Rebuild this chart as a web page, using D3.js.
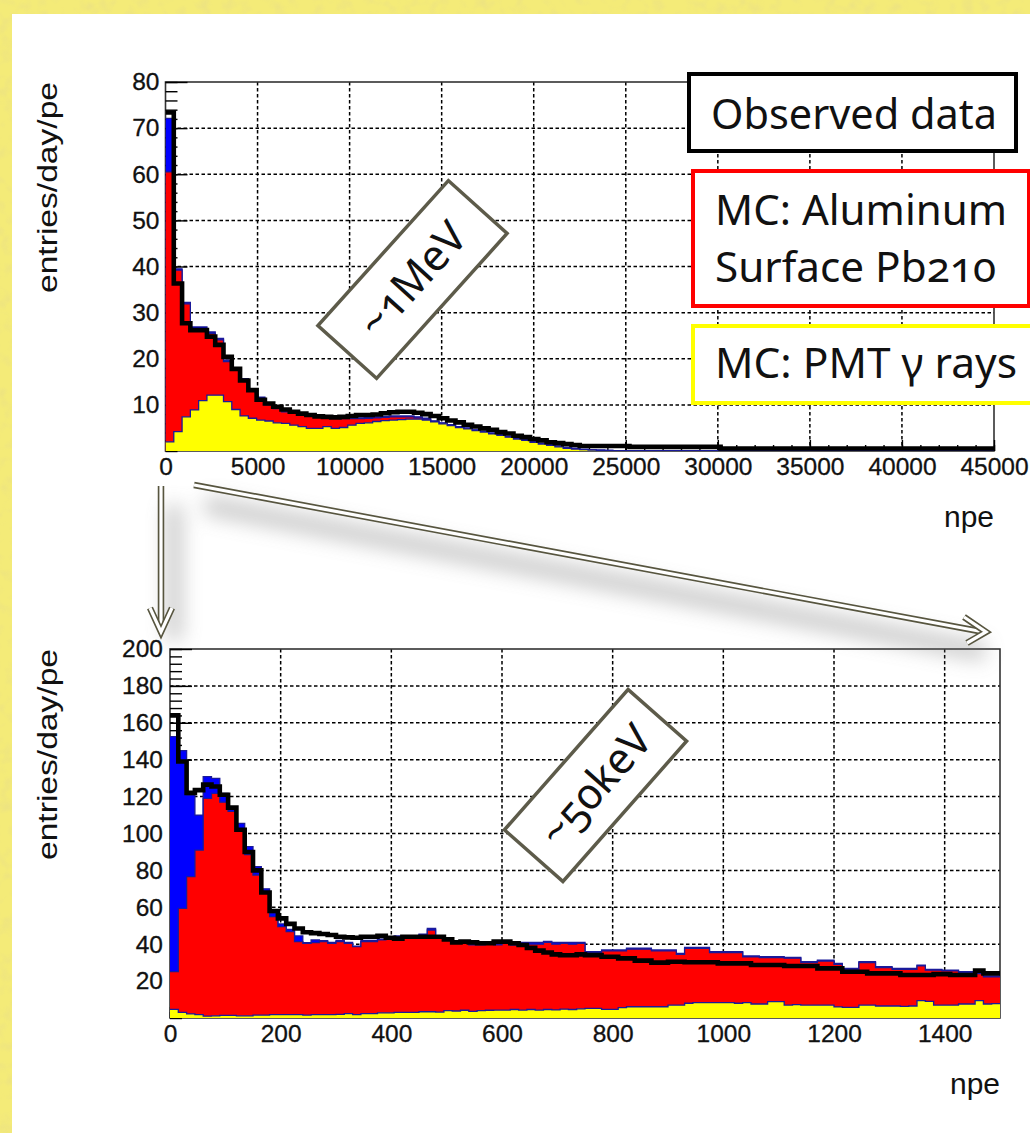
<!DOCTYPE html>
<html><head><meta charset="utf-8">
<script src="https://cdn.jsdelivr.net/npm/d3@7"></script>
<style>
html,body{margin:0;padding:0;background:#fff;}
svg{display:block;}
</style></head>
<body>
<svg id="chart" width="1030" height="1133"></svg>
<script>
// ---------------- DATA ----------------
// Upper histogram: 100 bins of 450 npe over 0..45000
const topXTicks = [0,5000,10000,15000,20000,25000,30000,35000,40000,45000];
const topYTicks = [10,20,30,40,50,60,70,80];
// stack level after PMT gamma (yellow)
const topPMT = [2.0,4.2,7.4,8.9,10.9,12.1,12.1,10.7,9.0,7.6,
 7.1,6.7,6.5,6.1,6.0,5.6,5.3,4.9,4.9,5.3,
 4.9,5.1,5.6,6.0,6.1,6.4,6.6,6.7,6.8,6.9,
 6.9,6.7,6.3,5.9,5.5,5.1,4.8,4.4,4.1,3.7,
 3.4,3.0,2.6,2.3,1.9,1.5,1.2,0.9,0.6,0.4,
 0.3,0.2,0.15,0.1,0.1,0,0,0,0,0,
 0,0,0,0,0,0,0,0,0,0,
 0,0,0,0,0,0,0,0,0,0,
 0,0,0,0,0,0,0,0,0,0,
 0,0,0,0,0,0,0,0,0,0];
// stack level after Al surface Pb210 (red)
const topAl = [60.5,39.2,31.9,26.6,26.6,25.5,24.1,19.4,17.6,15.4,
 13.2,11.4,10.0,9.2,8.5,8.2,7.8,7.5,7.3,7.2,
 7.1,7.0,7.0,7.0,7.1,7.2,7.3,7.4,7.4,7.4,
 7.2,6.9,6.4,6.0,5.6,5.2,4.9,4.5,4.2,3.8,
 3.5,3.1,2.7,2.4,2.0,1.6,1.3,1.0,0.7,0.5,
 0.35,0.25,0.2,0.15,0.1,0.05,0.05,0.05,0,0,
 0,0,0,0,0,0,0,0,0,0,
 0,0,0,0,0,0,0,0,0,0,
 0,0,0,0,0,0,0,0,0,0,
 0,0,0,0,0,0,0,0,0,0];
// full stack (blue on top)
const topAll = [72.1,39.5,32.2,26.9,26.9,25.8,24.4,19.7,17.9,15.7,
 13.5,11.7,10.3,9.4,8.7,8.4,8.0,7.7,7.5,7.4,
 7.3,7.2,7.2,7.2,7.3,7.4,7.5,7.6,7.6,7.6,
 7.4,7.1,6.5,6.1,5.7,5.3,5.0,4.6,4.3,3.9,
 3.6,3.2,2.8,2.5,2.1,1.7,1.4,1.1,0.8,0.6,
 0.35,0.25,0.2,0.15,0.1,0.05,0.05,0.05,0,0,
 0,0,0,0,0,0,0,0,0,0,
 0,0,0,0,0,0,0,0,0,0,
 0,0,0,0,0,0,0,0,0,0,
 0,0,0,0,0,0,0,0,0,0];
// observed data
const topData = [73.4,36.3,27.7,26.2,26.2,24.8,23.0,20.4,17.8,15.3,
 13.2,11.1,10.3,9.6,9.0,8.5,8.1,7.8,7.5,7.4,
 7.3,7.4,7.6,7.8,7.8,7.9,8.2,8.4,8.5,8.5,
 8.3,8.0,7.6,7.1,6.6,6.2,5.7,5.3,4.9,4.6,
 4.1,3.8,3.3,3.0,2.6,2.3,1.9,1.7,1.5,1.3,
 1.1,1.1,1.1,1.1,1.1,1.1,0.9,0.9,0.9,0.9,
 0.9,0.9,0.9,0.9,0.9,0.9,0.9,0.55,0.55,0.55,
 0.55,0.55,0.55,0.55,0.55,0.55,0.55,0.55,0.55,0.55,
 0.55,0.55,0.55,0.55,0.55,0.55,0.55,0.55,0.55,0.55,
 0.55,0.55,0.55,0.55,0.55,0.55,0.55,0.55,0.55,0.55];

// Lower histogram: 100 bins of 15 npe over 0..1500
const botXTicks = [0,200,400,600,800,1000,1200,1400];
const botYTicks = [20,40,60,80,100,120,140,160,180,200];
const botPMT = [4.7,3.0,2.2,1.8,1.0,1.2,1.4,1.4,1.2,1.2,
 1.6,1.6,1.8,1.8,1.8,1.8,1.6,1.8,1.8,1.8,
 2.0,2.4,1.8,2.4,2.4,2.8,2.8,3.0,3.0,3.0,
 3.4,3.4,3.2,4.0,3.8,4.2,3.6,4.0,4.2,4.3,
 4.3,4.6,4.3,4.6,4.3,4.6,4.4,4.8,4.6,5.0,
 5.2,5.2,4.7,4.7,5.6,6.1,6.1,6.1,6.1,6.1,
 7.0,7.0,8.0,8.3,8.3,8.3,8.3,8.3,8.0,8.3,
 7.6,7.6,8.9,8.9,7.0,7.2,7.0,7.0,7.0,7.0,
 6.0,5.8,5.8,7.0,7.0,6.5,6.5,6.5,6.3,6.5,
 9.4,9.0,7.0,7.0,7.0,7.6,7.6,9.4,7.6,7.8];
const botAl = [25.1,59.4,76.6,91.0,119.0,121.8,117.0,112.0,101.5,88.5,
 77.5,67.6,55.0,49.5,46.8,41.4,40.5,40.8,41.4,40.5,
 41.4,40.5,38.7,41.4,41.4,42.3,43.2,44.1,44.1,44.1,
 45.0,47.7,44.1,42.3,41.4,40.5,39.6,39.6,40.5,39.6,
 40.5,39.5,39.5,40.0,40.0,41.0,40.0,40.5,40.0,40.5,
 35.5,35.5,36.4,36.4,36.4,37.3,37.3,37.3,36.4,36.4,
 36.4,34.5,37.8,37.8,37.8,35.5,35.5,35.5,35.5,33.1,
 33.1,32.7,32.7,32.7,32.4,32.4,30.0,30.0,30.9,30.9,
 29.1,26.4,26.4,30.0,30.0,27.3,27.3,26.4,26.4,26.4,
 28.2,25.9,25.9,25.5,25.5,24.6,24.6,24.0,22.3,22.3];
const botAll = [152.5,144.9,121.0,110.0,130.8,129.9,121.8,114.5,105.5,92.9,
 82.0,70.0,57.0,51.0,48.0,44.5,40.8,42.3,41.9,41.0,
 42.0,41.0,39.0,42.0,42.0,42.7,43.6,44.5,44.5,44.5,
 45.4,48.6,44.5,42.7,41.8,40.9,40.0,40.0,40.9,40.0,
 40.9,40.9,41.0,41.0,41.0,41.5,41.0,41.0,41.0,41.0,
 36.0,36.0,36.9,36.9,36.9,37.8,37.8,37.8,36.9,36.9,
 36.9,35.0,38.3,38.3,38.3,36.0,36.0,36.0,36.0,33.6,
 33.6,33.2,33.2,33.2,32.9,32.9,30.5,30.5,31.4,31.4,
 29.6,26.9,26.9,30.5,30.5,27.8,27.8,26.9,26.9,26.9,
 28.7,26.4,26.4,26.0,26.0,25.1,25.1,24.5,22.8,22.8];
const botData = [164,139,122,123.5,126.5,125.5,121,114,102,90,
 80,68,58,54,51,48.5,46.5,46,45.5,45,
 44,43.7,43.5,44,44,44.5,43.5,43,44,44,
 44,44,44,42.6,41,41.4,41,40.5,40.5,41.4,
 41.4,40.5,39.6,38,36.5,35.5,34.5,34,34,34.5,
 34.1,34.1,33.2,33.2,32.3,32.3,31.1,31.1,30.0,30.0,
 30.5,30.5,30.2,30.2,30.2,30.2,29.6,29.6,29.6,29.6,
 28.7,28.7,28.7,28.7,28.2,28.2,28.2,28.2,26.9,26.9,
 26.9,25.1,25.1,25.1,24.2,24.2,24.2,24.2,23.3,23.3,
 23.3,23.3,23.8,23.8,23.3,23.3,23.3,25.7,24.2,24.2];

const legendLabels = ["Observed data", "MC: Aluminum", "Surface Pb210", "MC: PMT \u03b3 rays"];
const yTitle = "entries/day/pe";
const xTitle = "npe";

// ---------------- DRAWING ----------------
const svg = d3.select('#chart');
const defs = svg.append('defs');

// slide background
svg.append('rect').attr('width',1030).attr('height',1133).attr('fill','#f4eb78');
const speck = defs.append('filter').attr('id','speck').attr('x',0).attr('y',0).attr('width',1).attr('height',1);
speck.append('feTurbulence').attr('type','fractalNoise').attr('baseFrequency','0.08').attr('numOctaves',2).attr('seed',7);
speck.append('feColorMatrix').attr('type','matrix')
  .attr('values','0 0 0 0 0.80  0 0 0 0 0.72  0 0 0 0 0.25  2.4 0 0 0 -1.15');
svg.append('rect').attr('width',1030).attr('height',1133).attr('filter','url(#speck)').attr('opacity',0.55);
svg.append('rect').attr('x',12).attr('y',14).attr('width',1018).attr('height',1119).attr('fill','#ffffff');

const blur = defs.append('filter').attr('id','blur').attr('x','-20%').attr('y','-50%').attr('width','140%').attr('height','200%');
blur.append('feGaussianBlur').attr('stdDeviation',10);

const tickFont = "'Liberation Sans', Arial, sans-serif";
const noteFont = "'Noto Sans', 'Open Sans', sans-serif";

function drawHist(cfg) {
  const x = d3.scaleLinear().domain([0, cfg.xMax]).range([cfg.left, cfg.right]);
  const y = d3.scaleLinear().domain([0, cfg.yMax]).range([cfg.bottom, cfg.top]);
  const g = svg.append('g');
  const bw = cfg.xMax / cfg.pmt.length;

  // grid
  g.append('g').selectAll('line').data(cfg.xTicks.filter(v => v > 0 && v < cfg.xMax)).join('line')
    .attr('x1', d => x(d)).attr('x2', d => x(d)).attr('y1', cfg.top).attr('y2', cfg.bottom)
    .attr('stroke', '#000').attr('stroke-width', 1.5).attr('stroke-dasharray', '3.5,2.5');
  g.append('g').selectAll('line').data(cfg.yTicks.filter(v => v > 0 && v < cfg.yMax)).join('line')
    .attr('y1', d => y(d)).attr('y2', d => y(d)).attr('x1', cfg.left).attr('x2', cfg.right)
    .attr('stroke', '#000').attr('stroke-width', 1.5).attr('stroke-dasharray', '3.5,2.5');

  // frame
  g.append('rect').attr('x', cfg.left).attr('y', cfg.top)
    .attr('width', cfg.right - cfg.left).attr('height', cfg.bottom - cfg.top)
    .attr('fill', 'none').attr('stroke', '#333').attr('stroke-width', 1.6);

  // ticks (inside the frame)
  const xMajor = d3.axisTop(x).tickValues(cfg.xTicks).tickSize(11).tickFormat('');
  const xMinor = d3.axisTop(x).tickValues(d3.range(0, cfg.xMax + 1e-9, cfg.xMinorStep)).tickSize(6).tickFormat('');
  const yMajor = d3.axisRight(y).tickValues(cfg.yTicks).tickSize(22).tickFormat('');
  const yMinor = d3.axisRight(y).tickValues(d3.range(0, cfg.yMax + 1e-9, cfg.yMinorStep)).tickSize(12).tickFormat('');
  [[xMajor, `translate(0,${cfg.bottom})`], [xMinor, `translate(0,${cfg.bottom})`],
   [yMajor, `translate(${cfg.left},0)`], [yMinor, `translate(${cfg.left},0)`]].forEach(([ax, tr]) => {
    const a = g.append('g').attr('transform', tr).call(ax);
    a.select('.domain').remove();
    a.selectAll('line').attr('stroke', '#000').attr('stroke-width', 1.4);
  });

  // tick labels
  const xl = g.append('g').attr('transform', `translate(0,${cfg.bottom})`)
    .call(d3.axisBottom(x).tickValues(cfg.xTicks).tickSize(0).tickPadding(7).tickFormat(d3.format('d')));
  xl.select('.domain').remove();
  xl.selectAll('text').attr('font-family', tickFont).attr('font-size', 24.5).attr('fill', '#111')
    .attr('stroke', '#111').attr('stroke-width', 0.3);
  const yl = g.append('g').attr('transform', `translate(${cfg.left},0)`)
    .call(d3.axisLeft(y).tickValues(cfg.yTicks).tickSize(0).tickPadding(cfg.yPad).tickFormat(d3.format('d')));
  yl.select('.domain').remove();
  yl.selectAll('text').attr('font-family', tickFont).attr('font-size', 24.5).attr('fill', '#111')
    .attr('stroke', '#111').attr('stroke-width', 0.3);

  // axis titles
  g.append('text').attr('transform', `translate(${cfg.yTitleX},${cfg.top}) rotate(-90)`)
    .attr('text-anchor', 'end').attr('font-family', tickFont).attr('font-size', 27).attr('fill', '#111')
    .attr('textLength', 211).attr('lengthAdjust', 'spacingAndGlyphs')
    .text(yTitle);
  g.append('text').attr('x', cfg.right).attr('y', cfg.xTitleY)
    .attr('text-anchor', 'end').attr('font-family', tickFont).attr('font-size', 29).attr('fill', '#111')
    .attr('textLength', 50).attr('lengthAdjust', 'spacingAndGlyphs')
    .text(xTitle);

  // histograms
  const clipId = 'clip' + cfg.id;
  defs.append('clipPath').attr('id', clipId).append('rect')
    .attr('x', cfg.left).attr('y', cfg.top).attr('width', cfg.right - cfg.left).attr('height', cfg.bottom - cfg.top);
  const hg = g.append('g').attr('clip-path', `url(#${clipId})`);
  const pts = vals => { const p = vals.map((v, i) => [i * bw, v]); p.push([vals.length * bw, vals[vals.length - 1]]); return p; };
  const area = d3.area().x(d => x(d[0])).y0(y(0)).y1(d => y(d[1])).curve(d3.curveStepAfter);
  const line = d3.line().x(d => x(d[0])).y(d => y(d[1])).curve(d3.curveStepAfter);
  [[cfg.all, '#0000ff'], [cfg.al, '#ff0000'], [cfg.pmt, '#ffff00']].forEach(([vals, col]) => {
    hg.append('path').attr('d', area(pts(vals))).attr('fill', col).attr('stroke', 'none');
    hg.append('path').attr('d', line(pts(vals))).attr('fill', 'none').attr('stroke', '#1a1a9a').attr('stroke-width', 1.3);
  });
  hg.append('path').attr('d', line(pts(cfg.data))).attr('fill', 'none').attr('stroke', '#000')
    .attr('stroke-width', 4.6).attr('stroke-linejoin', 'miter');
}

drawHist({id: 'top', left: 165.5, right: 994, top: 82, bottom: 451, xMax: 45000, yMax: 80,
  xTicks: topXTicks, yTicks: topYTicks, xMinorStep: 1000, yMinorStep: 2, yPad: 6,
  yTitleX: 57, xTitleY: 527,
  pmt: topPMT, al: topAl, all: topAll, data: topData});
drawHist({id: 'bot', left: 170, right: 1000, top: 649, bottom: 1018, xMax: 1500, yMax: 200,
  xTicks: botXTicks, yTicks: botYTicks, xMinorStep: 40, yMinorStep: 4, yPad: 7,
  yTitleX: 57, xTitleY: 1094,
  pmt: botPMT, al: botAl, all: botAll, data: botData});

// ---------------- annotations ----------------
// arrow shadows
const sh = svg.append('g').attr('filter', 'url(#blur)').attr('opacity', 0.4);
sh.append('line').attr('x1', 205).attr('y1', 505).attr('x2', 985).attr('y2', 652).attr('stroke', '#777').attr('stroke-width', 18);
sh.append('line').attr('x1', 174).attr('y1', 505).attr('x2', 174).attr('y2', 640).attr('stroke', '#777').attr('stroke-width', 16);

function hollow(pts) {
  const l = d3.line();
  svg.append('path').attr('d', l(pts)).attr('fill', 'none').attr('stroke', '#57553f')
    .attr('stroke-width', 6.5).attr('stroke-linejoin', 'miter').attr('stroke-linecap', 'butt');
  svg.append('path').attr('d', l(pts)).attr('fill', 'none').attr('stroke', '#ffffff')
    .attr('stroke-width', 3.2).attr('stroke-linejoin', 'miter').attr('stroke-linecap', 'butt');
}
hollow([[161, 486], [161, 629]]);
hollow([[150, 608], [161, 632], [172, 608]]);
hollow([[194, 485], [984, 632]]);
hollow([[964, 617], [986, 632], [967, 643]]);

// rotated energy boxes
function tagBox(cx, cy, w, h, ang, label) {
  const g = svg.append('g').attr('transform', `translate(${cx},${cy}) rotate(${ang})`);
  g.append('rect').attr('x', -w / 2).attr('y', -h / 2).attr('width', w).attr('height', h)
    .attr('fill', '#fff').attr('stroke', '#5d5b4a').attr('stroke-width', 3.5);
  g.append('text').attr('x', 0).attr('y', 15).attr('text-anchor', 'middle')
    .attr('font-family', noteFont).attr('font-size', 43).attr('fill', '#111')
    .style('font-variant-numeric', 'oldstyle-nums').text(label);
}
tagBox(412.5, 279.5, 195, 79, -48, '~1MeV');
tagBox(595.5, 785.5, 187, 78, -48.6, '~50keV');

// legend boxes
function legBox(x, y, w, h, col, lines) {
  svg.append('rect').attr('x', x).attr('y', y).attr('width', w).attr('height', h)
    .attr('fill', '#fff').attr('stroke', col).attr('stroke-width', 4);
  lines.forEach(([t, by, len]) => {
    svg.append('text').attr('x', x + 22).attr('y', by).attr('font-family', noteFont).attr('font-size', 42)
      .attr('fill', '#111').attr('textLength', len).attr('lengthAdjust', 'spacingAndGlyphs')
      .style('font-variant-numeric', 'oldstyle-nums').text(t);
  });
}
legBox(689, 74, 327, 77, '#000', [[legendLabels[0], 129, 286]]);
legBox(693, 171, 336, 135, '#ff0000', [[legendLabels[1], 225, 292], [legendLabels[2], 282, 281]]);
legBox(693, 326, 345, 77, '#ffff00', [[legendLabels[3], 378, 302]]);
</script>
</body></html>
